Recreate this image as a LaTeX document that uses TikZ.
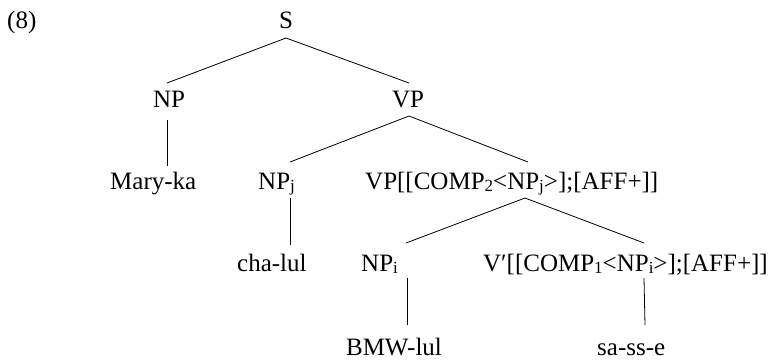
\documentclass[tikz,border=0pt]{standalone}
\usepackage{fontspec}
\setmainfont{Liberation Serif}
\newcommand\sbx[1]{\raisebox{-2.5pt}{\fontsize{17}{17}\selectfont #1}}
\begin{document}
\begin{tikzpicture}[x=1pt,y=-1pt,
  lbl/.style={font=\fontsize{25}{30}\selectfont, inner sep=0pt, anchor=base},
  edge/.style={line width=0.8pt, black}]
\useasboundingbox (0,0) rectangle (771,360);
% nodes
\node[lbl, anchor=base west] (ex) at (7,28) {(8)};
\node[lbl] (S) at (286,28) {S};
\node[lbl] (NP) at (169,107) {NP};
\node[lbl] (VP) at (408,107) {VP};
\node[lbl, anchor=base west] (Mary) at (110,189) {Mary-ka};
\node[lbl, anchor=base west] (NPj) at (258,189) {NP\sbx{j}};
\node[lbl, anchor=base west] (VPb) at (365,189) {VP[[COMP\sbx{2}<NP\sbx{j}>];[AFF+]]};
\node[lbl, anchor=base west] (cha) at (237,271) {cha-lul};
\node[lbl, anchor=base west] (NPi) at (361,271) {NP\sbx{i}};
\node[lbl, anchor=base east] (Vbar) at (768,271) {V′[[COMP\sbx{1}<NP\sbx{i}>];[AFF+]]};
\node[lbl, text depth=0pt] (BMW) at (394,355) {BMW-lul};
\node[lbl, text depth=0pt, anchor=base west] (sass) at (597,355) {sa-ss-e};
% connectors
\draw[edge] ([shift={(0,10)}]S.base) -- ([shift={(-2,-24)}]NP.base);
\draw[edge] ([shift={(0,10)}]S.base) -- ([shift={(1,-24)}]VP.base);
\draw[edge] ([shift={(-2,13)}]NP.base) -- ([shift={(57,-23)}]Mary.base west);
\draw[edge] ([shift={(1,9)}]VP.base) -- ([shift={(32,-27)}]NPj.base west);
\draw[edge] ([shift={(1,9)}]VP.base) -- ([shift={(163,-27)}]VPb.base west);
\draw[edge] ([shift={(32,9)}]NPj.base west) -- ([shift={(53,-26)}]cha.base west);
\draw[edge] ([shift={(160,9)}]VPb.base west) -- ([shift={(45,-28)}]NPi.base west);
\draw[edge] ([shift={(160,9)}]VPb.base west) -- ([shift={(-124,-28)}]Vbar.base east);
\draw[edge] ([shift={(46,7)}]NPi.base west) -- ([shift={(13,-30)}]BMW.base);
\draw[edge] ([shift={(-124,7)}]Vbar.base east) -- ([shift={(48,-30)}]sass.base west);
\end{tikzpicture}
\end{document}
